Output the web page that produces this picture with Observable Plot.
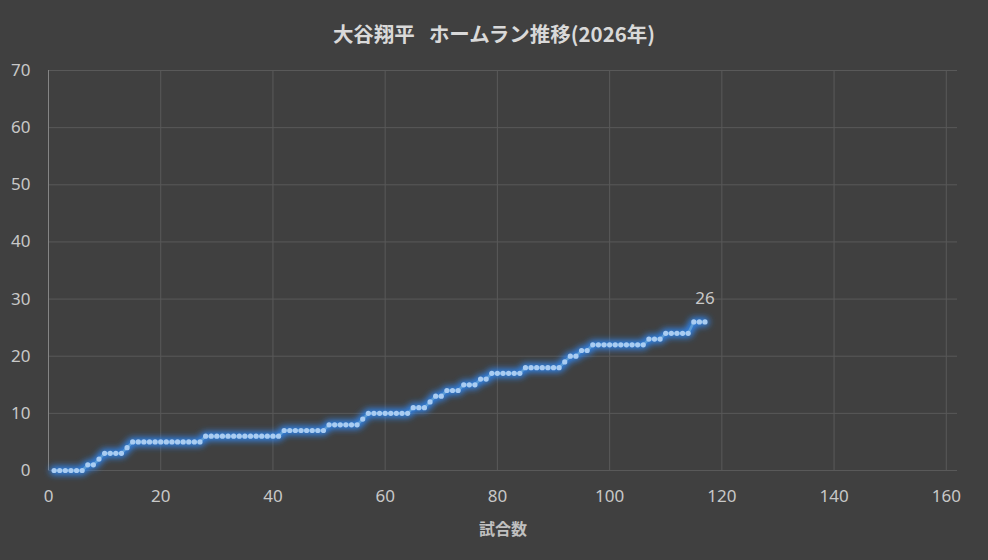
<!DOCTYPE html>
<html>
<head>
<meta charset="utf-8">
<script src="https://cdn.jsdelivr.net/npm/d3@7"></script>
<script src="https://cdn.jsdelivr.net/npm/@observablehq/plot@0.6"></script>
<style>
  html, body { margin: 0; padding: 0; background: #404040; }
  #wrap { width: 988px; height: 560px; background: #404040; }
  #title { height: 50px; line-height: 66px; text-align: center; color: #d9d9d9;
    font-family: "Noto Sans CJK JP", "Noto Sans", sans-serif; font-weight: bold; font-size: 20.5px; }
  #title .gap { display: inline-block; width: 14px; }
  #chart svg { display: block; }
</style>
</head>
<body>
<div id="wrap">
  <div id="title">大谷翔平<span class="gap"> </span>ホームラン推移(2026年)</div>
  <div id="chart"></div>
</div>
<script>
// cumulative home runs after each game (game 1 .. 117)
const homeRuns = [
  0,0,0,0,0,0, 1,1, 2, 3,3,3,3, 4,
  5,5,5,5,5,5,5,5,5,5,5,5,5,
  6,6,6,6,6,6,6,6,6,6,6,6,6,6,
  7,7,7,7,7,7,7,7,
  8,8,8,8,8,8, 9,
  10,10,10,10,10,10,10,10,
  11,11,11, 12, 13,13, 14,14,14, 15,15,15, 16,16,
  17,17,17,17,17,17,
  18,18,18,18,18,18,18, 19, 20,20, 21,21,
  22,22,22,22,22,22,22,22,22,22,
  23,23,23, 24,24,24,24,24, 26,26,26
];
const xTicks = [0, 20, 40, 60, 80, 100, 120, 140, 160];
const yTicks = [0, 10, 20, 30, 40, 50, 60, 70];
const xLabel = "試合数";

const data = homeRuns.map((hr, i) => ({ game: i + 1, hr }));
const last = data[data.length - 1];

const chart = Plot.plot({
  width: 988,
  height: 510,
  marginTop: 20,
  marginBottom: 90,
  marginLeft: 48,
  marginRight: 31,
  style: { background: "#404040", color: "#c8c8c8", fontFamily: "'Noto Sans', sans-serif", fontSize: "17px" },
  x: { domain: [0, 162], label: null },
  y: { domain: [0, 70], label: null },
  marks: [
    Plot.gridX(xTicks, { stroke: "#595959", strokeOpacity: 1 }),
    Plot.gridY(yTicks, { stroke: "#595959", strokeOpacity: 1 }),
    Plot.ruleX([0], { stroke: "#858585" }),
    Plot.axisX(xTicks, { tickSize: 0, tickPadding: 19, fill: "#c8c8c8", fontSize: 17, label: null }),
    Plot.axisY(yTicks, { tickSize: 0, tickPadding: 18, fill: "#c8c8c8", fontSize: 17, label: null }),
    Plot.text([xLabel], { frameAnchor: "bottom", dy: 64, fill: "#c0c0c0", fontSize: 16, fontWeight: "bold",
      fontFamily: "'Noto Sans CJK JP', sans-serif" }),
    Plot.line(data, { x: "game", y: "hr", stroke: "#2f86f0", strokeWidth: 9, strokeOpacity: 0.95 }),
    Plot.line(data, { x: "game", y: "hr", stroke: "#5b9bd5", strokeWidth: 2.5 }),
    Plot.dot(data, { x: "game", y: "hr", r: 2.6, fill: "#a9ccf2", stroke: "none" }),
    Plot.text([last], { x: "game", y: "hr", text: d => String(d.hr), dy: -23, fill: "#c8c8c8", fontSize: 17 })
  ]
});

const svg = d3.select(chart);
const defs = svg.insert("defs", ":first-child");
const f = defs.append("filter").attr("id", "hrglowf")
  .attr("x", "-10%").attr("y", "-10%").attr("width", "120%").attr("height", "120%");
f.append("feGaussianBlur").attr("stdDeviation", 3.2);
svg.selectAll('g[stroke-width="9"]').attr("filter", "url(#hrglowf)");
document.getElementById("chart").appendChild(chart);
</script>
</body>
</html>
